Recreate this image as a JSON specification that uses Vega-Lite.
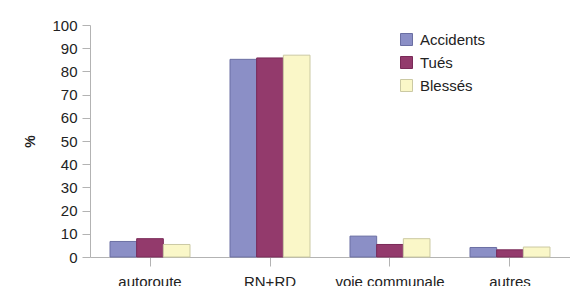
{
  "$schema": "https://vega.github.io/schema/vega-lite/v6.json",
  "autosize": {"type": "none"},
  "width": 480,
  "height": 232,
  "padding": {"left": 90, "top": 25, "right": 0, "bottom": 29},
  "background": "white",
  "config": {
    "font": "Liberation Sans",
    "view": {"stroke": null},
    "axis": {"domainColor": "#b3b3b3", "tickColor": "#b3b3b3", "labelColor": "#222222", "labelFontSize": 15, "grid": false, "labelFont": "Liberation Sans", "titleFont": "Liberation Sans"}
  },
  "data": {
    "values": [
      {"type": "autoroute", "serie": "Accidents", "value": 6.7},
      {"type": "autoroute", "serie": "Tués", "value": 7.9},
      {"type": "autoroute", "serie": "Blessés", "value": 5.4},
      {"type": "RN+RD", "serie": "Accidents", "value": 85.2},
      {"type": "RN+RD", "serie": "Tués", "value": 85.8},
      {"type": "RN+RD", "serie": "Blessés", "value": 87.0},
      {"type": "voie communale", "serie": "Accidents", "value": 9.0},
      {"type": "voie communale", "serie": "Tués", "value": 5.4},
      {"type": "voie communale", "serie": "Blessés", "value": 7.9},
      {"type": "autres", "serie": "Accidents", "value": 4.1},
      {"type": "autres", "serie": "Tués", "value": 3.1},
      {"type": "autres", "serie": "Blessés", "value": 4.3}
    ]
  },
  "mark": {"type": "bar", "strokeWidth": 1},
  "encoding": {
    "x": {
      "field": "type", "type": "nominal",
      "sort": ["autoroute", "RN+RD", "voie communale", "autres"],
      "scale": {"paddingInner": 0.3333, "paddingOuter": 0.1667},
      "axis": {"title": null, "labelAngle": 0, "tickSize": 9, "labelPadding": 8, "domainWidth": 1}
    },
    "xOffset": {
      "field": "serie", "type": "nominal",
      "sort": ["Accidents", "Tués", "Blessés"],
      "scale": {"paddingInner": 0, "paddingOuter": 0}
    },
    "y": {
      "field": "value", "type": "quantitative",
      "scale": {"domain": [0, 100], "nice": false},
      "axis": {"title": "%", "values": [0, 10, 20, 30, 40, 50, 60, 70, 80, 90, 100], "tickSize": 8, "labelPadding": 5, "titleFontSize": 14, "titleFontWeight": "bold", "titleColor": "#222222", "titlePadding": 14}
    },
    "color": {
      "field": "serie", "type": "nominal",
      "sort": ["Accidents", "Tués", "Blessés"],
      "scale": {"domain": ["Accidents", "Tués", "Blessés"], "range": ["#8b8fc6", "#933a6c", "#faf7c8"]},
      "legend": {"title": null, "orient": "none", "legendX": 309, "legendY": 7, "symbolType": "square", "symbolSize": 144, "labelFontSize": 15, "labelColor": "#222222", "rowPadding": 6, "symbolOpacity": 1, "labelOffset": 6, "symbolStrokeWidth": 1}
    },
    "stroke": {
      "field": "serie", "type": "nominal",
      "sort": ["Accidents", "Tués", "Blessés"],
      "scale": {"domain": ["Accidents", "Tués", "Blessés"], "range": ["#6b6fa3", "#7a2a58", "#cbc9a3"]},
      "legend": {"title": null, "orient": "none", "legendX": 309, "legendY": 7, "symbolType": "square", "symbolSize": 144, "labelFontSize": 15, "labelColor": "#222222", "rowPadding": 6, "symbolOpacity": 1, "labelOffset": 6, "symbolStrokeWidth": 1}
    }
  }
}
